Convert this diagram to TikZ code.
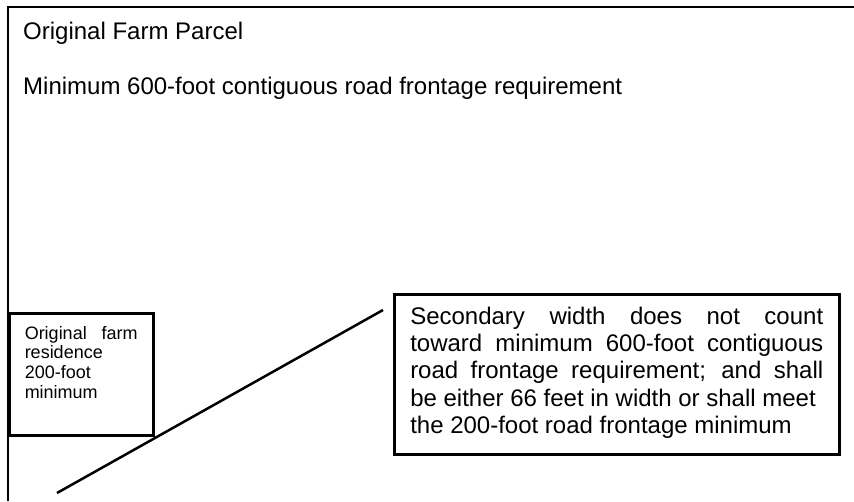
\documentclass[tikz,border=0pt]{standalone}
\usepackage{fontspec}
\setmainfont{Liberation Sans}
\usetikzlibrary{positioning}
\hyphenpenalty=10000
\tikzset{
  edge/.style={line width=2.5pt},
  header/.style={anchor=base west,inner sep=0pt,font=\fontsize{24}{27}\selectfont},
  notebox/.style={draw,line width=2.5pt,anchor=north west,align=justify,
    font=\fontsize{24}{27.3}\selectfont,text width=413pt,
    inner xsep=16pt,inner ysep=12pt,text height=18pt,text depth=118pt},
  residencebox/.style={draw,line width=2.5pt,anchor=north west,align=justify,
    font=\fontsize{18}{19.6}\selectfont,text width=113pt,
    inner xsep=15.5pt,inner ysep=11pt,text height=15pt,text depth=85pt}
}
\begin{document}
\begin{tikzpicture}[x=1pt,y=-1pt]
            \useasboundingbox (0,0) rectangle (854,501);
            % parcel boundary
            \draw[edge] (8,501)--(8,7)--(854,7);
            \node (title) at (23,39) [header] {Original Farm Parcel};
            \node (frontage) at (23,94) [header] {Minimum 600-foot contiguous road frontage requirement};
            % residence lot
            \node (residence) at (8,312) [residencebox] {Original farm\linebreak residence\\ 200-foot\\ minimum};
            % secondary width
            \coordinate (roadlow) at (57,493);
            \coordinate (roadhigh) at (383,310);
            \draw[edge] (roadlow)--(roadhigh);
            \node (note) at (393,293) [notebox] {Secondary width does not count\linebreak
              toward minimum 600-foot contiguous\linebreak
              road frontage requirement; and shall\linebreak
              be either 66 feet in width or shall meet\\
              the 200-foot road frontage minimum};
        \end{tikzpicture}
\end{document}
